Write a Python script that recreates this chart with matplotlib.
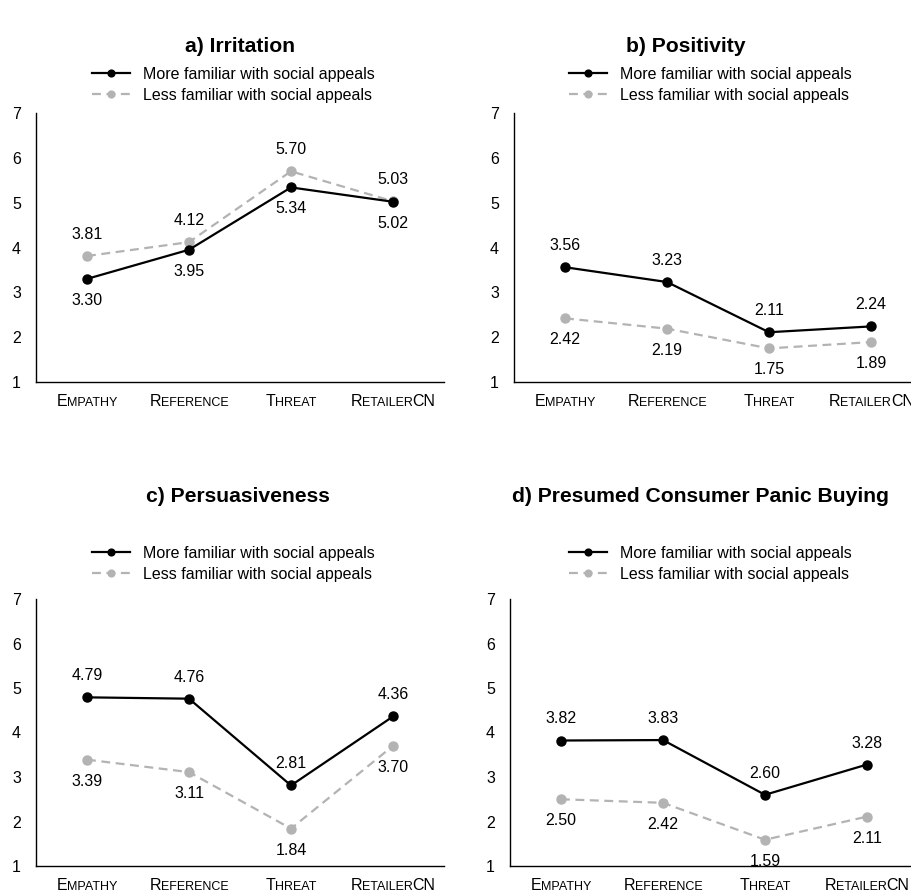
import matplotlib
matplotlib.use("Agg")
import matplotlib.pyplot as plt

plt.rcParams['font.family'] = ['Liberation Sans', 'DejaVu Sans']

# category names and group means per panel
categories = ["Empathy", "Reference", "Threat", "RetailerCN"]
titles = ["a) Irritation", "b) Positivity", "c) Persuasiveness",
          "d) Presumed Consumer Panic Buying"]
more_familiar = [
    [3.30, 3.95, 5.34, 5.02],
    [3.56, 3.23, 2.11, 2.24],
    [4.79, 4.76, 2.81, 4.36],
    [3.82, 3.83, 2.60, 3.28],
]
less_familiar = [
    [3.81, 4.12, 5.70, 5.03],
    [2.42, 2.19, 1.75, 1.89],
    [3.39, 3.11, 1.84, 3.70],
    [2.50, 2.42, 1.59, 2.11],
]
series_names = ["More familiar with social appeals",
                "Less familiar with social appeals"]

W, H = 912, 892
DPI = 100
GRAY = "#b3b3b3"
FS = 11.5

fig = plt.figure(figsize=(W / DPI, H / DPI), dpi=DPI)
renderer = fig.canvas.get_renderer()

# panel boxes in pixels: left, top, bottom
panels = [(36, 113, 382), (514, 113, 382), (36, 599, 866), (510, 599, 866)]
title_pos = [(240, 46), (686, 46), (238, 497), (701, 497)]
legend_pos = [(92, 67), (569, 67), (92, 546), (569, 546)]
axis_width = 408


def small_caps(ax, x, word, y_off=-17.5):
    # upper case letters stay full size, lower case become small capitals
    parts = []
    run, big = "", None
    for ch in word:
        b = ch.isupper()
        if big is None or b == big:
            run += ch
        else:
            parts.append((run, big))
            run = ch
        big = b
    parts.append((run, big))

    texts = []
    widths = []
    for s, b in parts:
        t = ax.annotate(s.upper(), (x, 0), xycoords=ax.get_xaxis_transform(),
                        xytext=(0, y_off), textcoords="offset points",
                        ha="left", va="baseline", fontsize=FS if b else FS * 0.78)
        texts.append(t)
        widths.append(t.get_window_extent(renderer).width)
    total = sum(widths)
    pos = -total / 2
    for t, w in zip(texts, widths):
        t.set_position((pos * 72 / DPI, y_off))
        pos += w


for k in range(4):
    left, top, bottom = panels[k]
    ax = fig.add_axes([left / W, (H - bottom) / H, axis_width / W, (bottom - top) / H])
    xs = list(range(len(categories)))
    ax.plot(xs, more_familiar[k], color="black", lw=1.6, marker="o", ms=6.5,
            label=series_names[0], zorder=3)
    ax.plot(xs, less_familiar[k], color=GRAY, lw=1.6, ls=(0, (4, 2.5)), marker="o",
            ms=6.5, label=series_names[1], zorder=2)

    # value labels go outward from the pair of points
    for i in xs:
        m, l = more_familiar[k][i], less_familiar[k][i]
        for v, other in ((m, l), (l, m)):
            dy = 15.5 if v >= other else -15.5
            ax.annotate(f"{v:.2f}", (i, v), xytext=(0, dy), textcoords="offset points",
                        ha="center", va="center", fontsize=FS)

    ax.set_xlim(-0.5, 3.5)
    ax.set_ylim(1, 7)
    ax.set_yticks(range(1, 8))
    ax.set_xticks(xs)
    ax.set_xticklabels([])
    ax.tick_params(axis="both", length=0, labelsize=FS)
    ax.tick_params(axis="y", pad=14)
    for yl in ax.get_yticklabels():
        yl.set_horizontalalignment("center")
    ax.spines["top"].set_visible(False)
    ax.spines["right"].set_visible(False)
    ax.spines["left"].set_linewidth(1.0)
    ax.spines["bottom"].set_linewidth(1.0)
    for i, c in enumerate(categories):
        small_caps(ax, i, c)

    tx, ty = title_pos[k]
    fig.text(tx / W, 1 - ty / H, titles[k], ha="center", va="center",
             fontsize=15.2, fontweight="bold")

    lx, ly = legend_pos[k]
    ax.legend(loc="upper left", bbox_to_anchor=(lx / W, 1 - ly / H),
              bbox_transform=fig.transFigure, frameon=False, fontsize=FS,
              handlelength=2.4, handletextpad=0.8, labelspacing=0.35,
              borderpad=0, borderaxespad=0, markerscale=0.75)

fig.savefig("out.png", dpi=DPI)
